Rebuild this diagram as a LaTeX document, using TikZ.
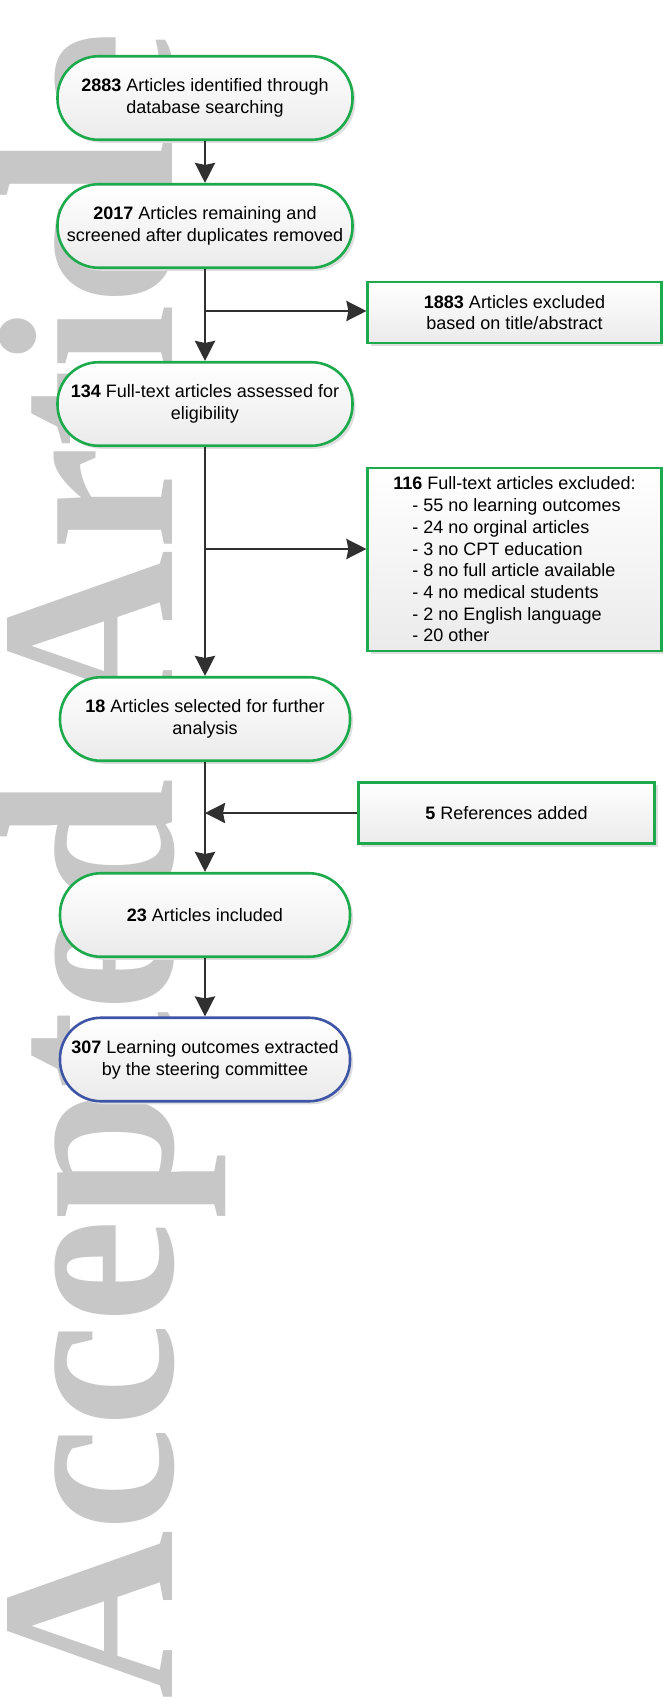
\documentclass[tikz,border=0pt]{standalone}
\usepackage{fontspec}
\setmainfont{Liberation Sans}
\newfontfamily\wmfont{Liberation Serif Bold}
\usetikzlibrary{arrows.meta,shadows,calc}
\definecolor{bgreen}{RGB}{28,170,76}
\definecolor{bblue}{RGB}{62,84,166}
\definecolor{wmgray}{RGB}{199,199,199}
\definecolor{arrowc}{RGB}{48,48,48}
\tikzset{
  boxtext/.style={align=center, inner sep=2pt, font=\fontsize{18}{21.7}\selectfont},
  shade/.style={top color=white, bottom color=black!8,
    drop shadow={shadow xshift=3pt, shadow yshift=-3pt, fill=black!13, opacity=1}},
  stadium/.style={boxtext, shade, draw=bgreen, line width=2.6pt, rounded corners=41pt,
    minimum height=83.5pt},
  rbox/.style={boxtext, shade, draw=bgreen, line width=2.6pt},
  arr/.style={draw=arrowc, line width=2.6pt, -{Stealth[length=20pt,width=20pt,inset=2pt]}},
  wmark/.style={rotate=90, anchor=base west, inner sep=0pt, text=wmgray,
    font={\wmfont\fontsize{250}{250}\selectfont}}
}
\begin{document}
\begin{tikzpicture}[x=1pt,y=-1pt]
\useasboundingbox (0,0) rectangle (663,1702);
\fill[white] (0,0) rectangle (663,1702);
% watermark
\node[wmark] (wm) at (172,1700) {\scalebox{0.935}[1]{Accepted Article}};
% main column
\node[stadium, minimum width=295pt] (b1) at (205,98)
  {\textbf{2883} Articles identified through\\database searching};
\node[stadium, minimum width=295pt] (b2) at (205,226)
  {\textbf{2017} Articles remaining and\\screened after duplicates removed};
\node[stadium, minimum width=295pt] (b3) at (205,404)
  {\textbf{134} Full-text articles assessed for\\eligibility};
\node[stadium, minimum width=290pt] (b4) at (205,719)
  {\textbf{18} Articles selected for further\\analysis};
\node[stadium, minimum width=290pt] (b5) at (205,915)
  {\textbf{23} Articles included};
\node[stadium, minimum width=290pt, draw=bblue] (b6) at (205,1059.5)
  {\textbf{307} Learning outcomes extracted\\by the steering committee};
% side boxes
\node[rbox, minimum width=293.5pt, minimum height=61pt] (r1) at (514.5,312.5)
  {\textbf{1883} Articles excluded\\based on title/abstract};
\node[rbox, minimum width=293.5pt, minimum height=183pt, align=left] (r2) at (514.5,559.5)
  {\textbf{116} Full-text articles excluded:\\
   \hspace*{19pt}- 55 no learning outcomes\\
   \hspace*{19pt}- 24 no orginal articles\\
   \hspace*{19pt}- 3 no CPT education\\
   \hspace*{19pt}- 8 no full article available\\
   \hspace*{19pt}- 4 no medical students\\
   \hspace*{19pt}- 2 no English language\\
   \hspace*{19pt}- 20 other};
\node[rbox, minimum width=296.5pt, minimum height=61.5pt] (r3) at (506.5,813)
  {\textbf{5} References added};
% connectors
\coordinate (j1) at (205,311);
\coordinate (j2) at (205,549);
\coordinate (j3) at (205,813);
\draw[arr] (b1.south) -- (b2.north);
\draw[arr] (b2.south) -- (b3.north);
\draw[arr] (j1) -- (j1 -| r1.west);
\draw[arr] (b3.south) -- (b4.north);
\draw[arr] (j2) -- (j2 -| r2.west);
\draw[arr] (b4.south) -- (b5.north);
\draw[arr] (r3.west) -- (j3);
\draw[arr] (b5.south) -- (b6.north);
\end{tikzpicture}
\end{document}
